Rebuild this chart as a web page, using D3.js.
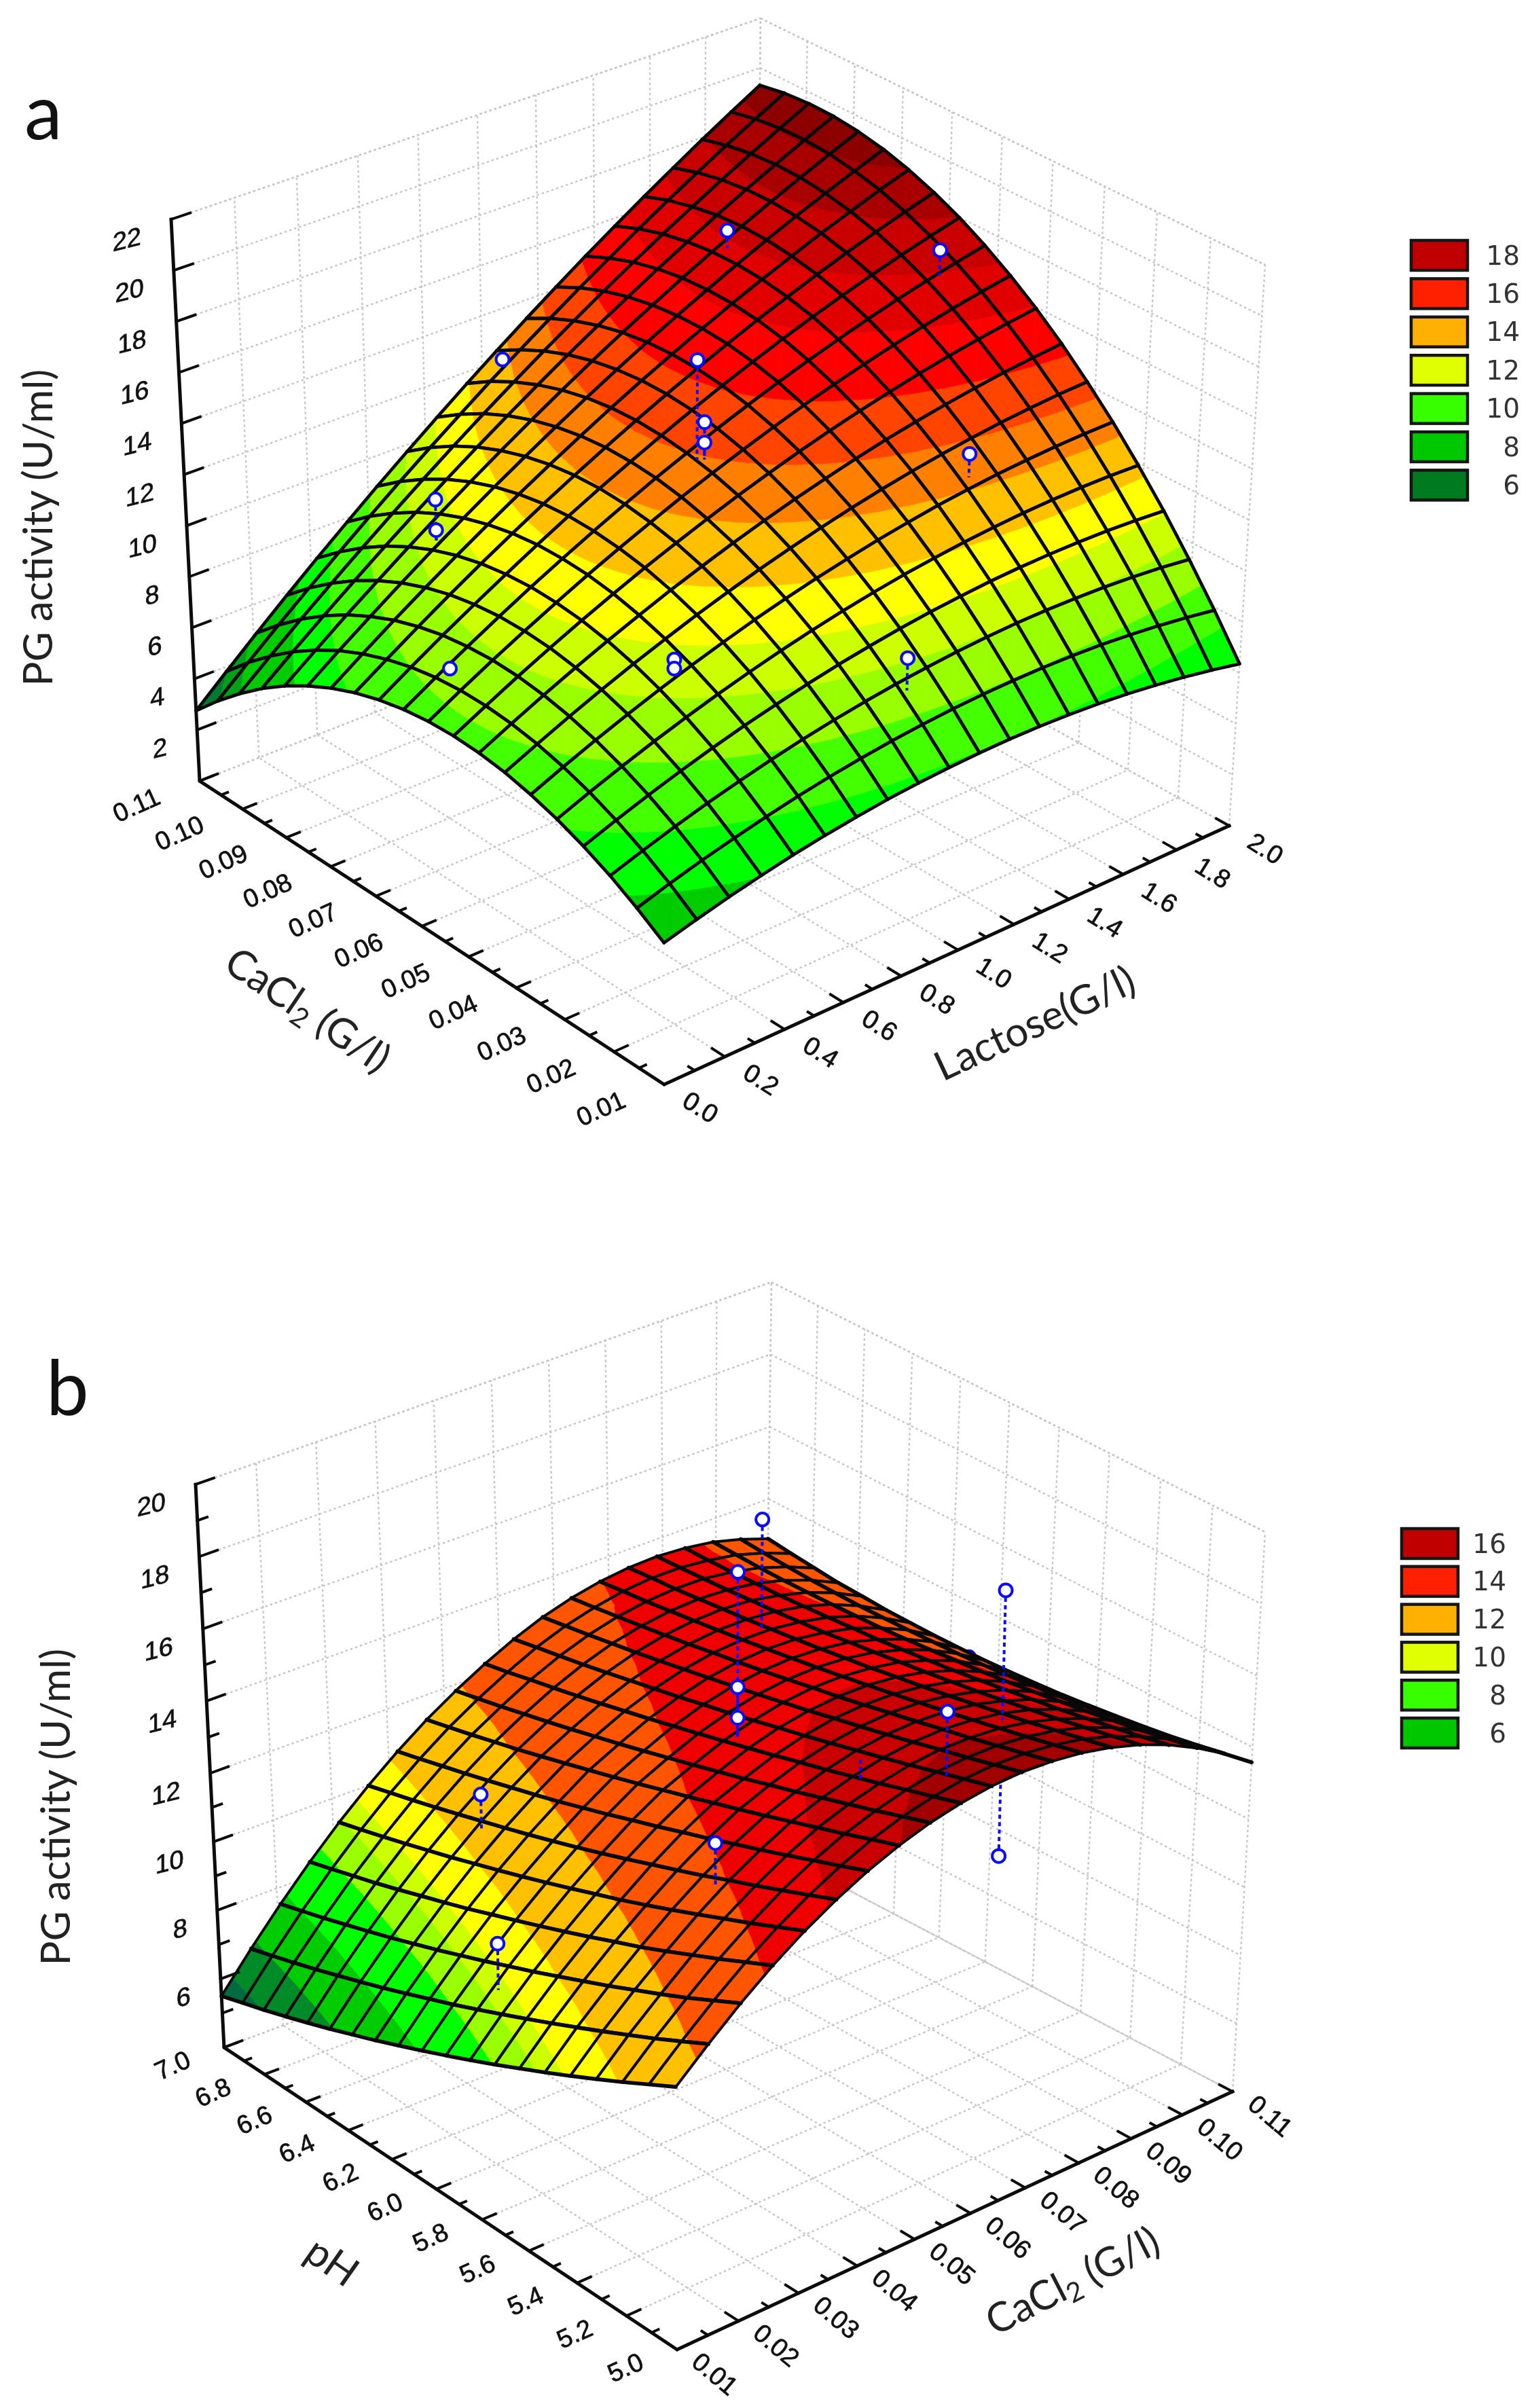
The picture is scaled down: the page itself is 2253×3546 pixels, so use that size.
<!DOCTYPE html>
<html>
<head>
<meta charset="utf-8">
<title>PG activity response surfaces</title>
<script src="https://cdnjs.cloudflare.com/ajax/libs/d3/7.8.5/d3.min.js"></script>
<style>
  html, body { margin: 0; padding: 0; background: #fff; }
  svg { display: block; filter: blur(0.6px); }
</style>
</head>
<body>
<div id="chart"></div>
<script>
/* ── panel a: values ── */
const lactoseTicksA = [0, 0.2, 0.4, 0.6, 0.8, 1.0, 1.2, 1.4, 1.6, 1.8, 2.0];
const cacl2TicksA = [0.01, 0.02, 0.03, 0.04, 0.05, 0.06, 0.07, 0.08, 0.09, 0.10, 0.11];
const zTicksA = [0, 2, 4, 6, 8, 10, 12, 14, 16, 18, 20, 22];
const legendValuesA = [18, 16, 14, 12, 10, 8, 6];
const legendColorsA = ["#c00000", "#ff2000", "#ffb000", "#e0ff00", "#38ff00", "#00c800", "#007a20"];
const bandBreaksA = [3.8, 4.6, 6.3, 7.4, 8.6, 9.7, 10.6, 11.6, 12.7, 13.7, 14.8, 16, 17, 18, 18.9];
const bandColorsA = ["#007a30", "#00a018", "#00cc00", "#00ff00", "#44ff00", "#99ff00", "#ccff00", "#ffff00",
  "#ffc000", "#ff8000", "#ff4400", "#ff0000", "#e00000", "#c80000", "#a80000", "#8c0000"];

// rows: CaCl2 0.01 -> 0.11, columns: lactose 0 -> 2
const surfaceA = [
  [5.40, 5.74, 6.05, 6.33, 6.58, 6.79, 6.97, 7.12, 7.23, 7.31, 7.36, 7.38, 7.37, 7.32, 7.24, 7.13, 6.98, 6.80, 6.59, 6.35],
  [6.07, 6.46, 6.81, 7.12, 7.41, 7.67, 7.89, 8.08, 8.24, 8.36, 8.46, 8.52, 8.55, 8.55, 8.52, 8.46, 8.36, 8.23, 8.07, 7.88],
  [6.66, 7.08, 7.47, 7.83, 8.15, 8.45, 8.72, 8.95, 9.15, 9.32, 9.46, 9.57, 9.65, 9.70, 9.71, 9.69, 9.65, 9.57, 9.46, 9.31],
  [7.15, 7.61, 8.04, 8.44, 8.81, 9.15, 9.45, 9.73, 9.98, 10.19, 10.38, 10.53, 10.65, 10.75, 10.81, 10.84, 10.84, 10.81, 10.75, 10.66],
  [7.55, 8.05, 8.52, 8.96, 9.37, 9.75, 10.10, 10.42, 10.71, 10.97, 11.20, 11.40, 11.56, 11.70, 11.81, 11.89, 11.94, 11.96, 11.95, 11.90],
  [7.86, 8.40, 8.91, 9.39, 9.84, 10.26, 10.65, 11.02, 11.35, 11.65, 11.92, 12.17, 12.38, 12.57, 12.72, 12.85, 12.94, 13.01, 13.05, 13.06],
  [8.09, 8.66, 9.21, 9.73, 10.22, 10.68, 11.12, 11.52, 11.90, 12.24, 12.56, 12.85, 13.11, 13.34, 13.54, 13.71, 13.86, 13.97, 14.06, 14.11],
  [8.22, 8.83, 9.42, 9.98, 10.51, 11.01, 11.49, 11.93, 12.35, 12.74, 13.10, 13.43, 13.74, 14.02, 14.26, 14.48, 14.67, 14.84, 14.97, 15.08],
  [8.26, 8.91, 9.54, 10.14, 10.71, 11.25, 11.77, 12.25, 12.71, 13.15, 13.55, 13.93, 14.28, 14.60, 14.89, 15.16, 15.40, 15.61, 15.79, 15.95],
  [8.21, 8.90, 9.57, 10.20, 10.81, 11.40, 11.95, 12.48, 12.99, 13.46, 13.91, 14.33, 14.73, 15.09, 15.43, 15.74, 16.03, 16.29, 16.52, 16.72],
  [8.07, 8.80, 9.50, 10.18, 10.83, 11.45, 12.05, 12.62, 13.17, 13.68, 14.18, 14.64, 15.08, 15.49, 15.87, 16.23, 16.57, 16.87, 17.15, 17.40],
  [7.84, 8.61, 9.35, 10.06, 10.75, 11.42, 12.06, 12.67, 13.25, 13.81, 14.35, 14.86, 15.34, 15.80, 16.23, 16.63, 17.01, 17.36, 17.69, 17.99],
  [7.52, 8.32, 9.10, 9.86, 10.59, 11.29, 11.97, 12.62, 13.25, 13.85, 14.43, 14.98, 15.51, 16.01, 16.48, 16.93, 17.36, 17.76, 18.13, 18.48],
  [7.11, 7.95, 8.77, 9.56, 10.33, 11.07, 11.79, 12.48, 13.15, 13.80, 14.42, 15.01, 15.58, 16.13, 16.65, 17.14, 17.62, 18.06, 18.49, 18.88],
  [6.61, 7.49, 8.34, 9.17, 9.98, 10.76, 11.52, 12.25, 12.96, 13.65, 14.31, 14.95, 15.56, 16.15, 16.72, 17.26, 17.78, 18.27, 18.74, 19.19],
  [6.02, 6.93, 7.83, 8.69, 9.54, 10.36, 11.16, 11.93, 12.68, 13.41, 14.12, 14.80, 15.45, 16.09, 16.70, 17.29, 17.85, 18.39, 18.91, 19.40],
  [5.34, 6.29, 7.22, 8.12, 9.01, 9.87, 10.71, 11.52, 12.31, 13.08, 13.83, 14.55, 15.25, 15.93, 16.58, 17.22, 17.83, 18.41, 18.98, 19.52],
  [4.56, 5.55, 6.52, 7.46, 8.38, 9.28, 10.16, 11.02, 11.85, 12.66, 13.45, 14.21, 14.96, 15.68, 16.38, 17.05, 17.71, 18.34, 18.95, 19.54],
  [3.70, 4.73, 5.73, 6.71, 7.67, 8.61, 9.53, 10.42, 11.29, 12.15, 12.97, 13.78, 14.57, 15.33, 16.08, 16.80, 17.50, 18.18, 18.83, 19.47],
  [2.75, 3.81, 4.85, 5.87, 6.87, 7.84, 8.80, 9.73, 10.64, 11.54, 12.41, 13.26, 14.09, 14.90, 15.68, 16.45, 17.19, 17.92, 18.62, 19.30]
];

const obsLactoseA = [1.51, 1.823, 0.995, 0.952, 0.964, 0.964, 1.496, 0.46, 0.46, 0.138, 0.487, 0.487, 0.958];
const obsCacl2A = [0.0879, 0.062, 0.105, 0.0608, 0.06, 0.06, 0.0374, 0.0854, 0.0854, 0.0617, 0.0374, 0.0374, 0.019];
const obsActivityA = [17.5, 18.0, 12.8, 17.5, 15.1, 14.3, 13.9, 11.6, 10.4, 9.1, 10.55, 10.2, 10.45];
const fitActivityA = [16.8, 17.0, 12.5, 13.6, 13.63, 13.63, 12.98, 10.0, 10.0, 8.98, 10.05, 10.05, 9.2];

/* ── panel b ── */
const cacl2TicksB = [0.01, 0.02, 0.03, 0.04, 0.05, 0.06, 0.07, 0.08, 0.09, 0.10, 0.11];
const phTicksB = [5.0, 5.2, 5.4, 5.6, 5.8, 6.0, 6.2, 6.4, 6.6, 6.8, 7.0];
const zTicksB = [4, 6, 8, 10, 12, 14, 16, 18, 20];
const legendValuesB = [16, 14, 12, 10, 8, 6];
const legendColorsB = ["#c00000", "#ff2000", "#ffb000", "#e0ff00", "#38ff00", "#00c800"];
const bandBreaksB = [5.9, 6.7, 7.7, 8.7, 9.3, 9.7, 10.5, 11.9, 13.4, 14.5, 15.4, 15.95];
const bandColorsB = ["#006a40", "#008a28", "#00cc00", "#00ff00", "#99ff00", "#ccff00", "#ffff00",
  "#ffc000", "#ff5500", "#ee0000", "#c80000", "#a00000", "#800000"];

// rows: pH 7 -> 5, columns: CaCl2 0.01 -> 0.11
const surfaceB = [
  [5.50, 6.54, 7.51, 8.41, 9.24, 9.99, 10.67, 11.28, 11.81, 12.27, 12.66, 12.98, 13.22, 13.39, 13.49, 13.52, 13.47, 13.36, 13.16, 12.90],
  [5.71, 6.74, 7.71, 8.60, 9.42, 10.17, 10.84, 11.44, 11.96, 12.40, 12.79, 13.09, 13.31, 13.47, 13.55, 13.55, 13.47, 13.34, 13.11, 12.82],
  [5.92, 6.95, 7.91, 8.80, 9.61, 10.35, 11.02, 11.61, 12.11, 12.55, 12.91, 13.20, 13.41, 13.54, 13.60, 13.59, 13.49, 13.32, 13.07, 12.75],
  [6.15, 7.17, 8.13, 9.00, 9.81, 10.54, 11.20, 11.79, 12.27, 12.69, 13.04, 13.32, 13.51, 13.63, 13.67, 13.63, 13.52, 13.32, 13.04, 12.68],
  [6.39, 7.41, 8.35, 9.22, 10.02, 10.74, 11.39, 11.97, 12.43, 12.84, 13.18, 13.44, 13.62, 13.72, 13.75, 13.69, 13.54, 13.33, 13.03, 12.65],
  [6.64, 7.65, 8.58, 9.45, 10.23, 10.95, 11.59, 12.16, 12.60, 13.00, 13.33, 13.57, 13.73, 13.82, 13.82, 13.74, 13.59, 13.35, 13.02, 12.61],
  [6.91, 7.90, 8.83, 9.68, 10.46, 11.16, 11.79, 12.35, 12.78, 13.17, 13.48, 13.71, 13.86, 13.92, 13.91, 13.81, 13.64, 13.38, 13.03, 12.60],
  [7.18, 8.17, 9.08, 9.92, 10.69, 11.38, 12.00, 12.55, 12.96, 13.34, 13.63, 13.85, 13.98, 14.03, 14.00, 13.88, 13.70, 13.41, 13.05, 12.59],
  [7.47, 8.45, 9.35, 10.18, 10.93, 11.61, 12.22, 12.75, 13.15, 13.52, 13.80, 14.00, 14.11, 14.15, 14.10, 13.98, 13.75, 13.46, 13.08, 12.60],
  [7.77, 8.73, 9.62, 10.44, 11.18, 11.85, 12.44, 12.96, 13.35, 13.70, 13.96, 14.15, 14.25, 14.27, 14.21, 14.07, 13.83, 13.52, 13.11, 12.62],
  [8.08, 9.03, 9.91, 10.71, 11.44, 12.10, 12.68, 13.18, 13.55, 13.89, 14.13, 14.31, 14.40, 14.40, 14.32, 14.17, 13.91, 13.59, 13.16, 12.66],
  [8.40, 9.34, 10.20, 10.99, 11.71, 12.35, 12.91, 13.40, 13.76, 14.08, 14.32, 14.47, 14.54, 14.54, 14.45, 14.27, 14.00, 13.66, 13.23, 12.71],
  [8.73, 9.66, 10.51, 11.28, 11.98, 12.61, 13.16, 13.63, 13.97, 14.28, 14.50, 14.65, 14.70, 14.68, 14.57, 14.38, 14.11, 13.75, 13.31, 12.77],
  [9.08, 9.99, 10.82, 11.58, 12.26, 12.87, 13.40, 13.86, 14.20, 14.49, 14.69, 14.82, 14.87, 14.83, 14.70, 14.50, 14.22, 13.85, 13.39, 12.85],
  [9.43, 10.33, 11.14, 11.88, 12.55, 13.14, 13.66, 14.10, 14.42, 14.69, 14.89, 15.00, 15.03, 14.98, 14.85, 14.63, 14.34, 13.96, 13.48, 12.94],
  [9.80, 10.68, 11.48, 12.20, 12.85, 13.43, 13.92, 14.35, 14.66, 14.91, 15.09, 15.19, 15.21, 15.14, 15.00, 14.77, 14.46, 14.07, 13.60, 13.04],
  [10.18, 11.04, 11.82, 12.53, 13.16, 13.71, 14.19, 14.60, 14.90, 15.13, 15.30, 15.39, 15.38, 15.31, 15.15, 14.91, 14.60, 14.20, 13.72, 13.15],
  [10.57, 11.41, 12.17, 12.86, 13.47, 14.01, 14.47, 14.85, 15.14, 15.37, 15.52, 15.58, 15.57, 15.48, 15.32, 15.07, 14.74, 14.33, 13.84, 13.28],
  [10.98, 11.80, 12.54, 13.21, 13.80, 14.31, 14.75, 15.12, 15.40, 15.60, 15.74, 15.79, 15.76, 15.66, 15.49, 15.23, 14.89, 14.49, 13.99, 13.43],
  [11.39, 12.19, 12.91, 13.56, 14.13, 14.62, 15.04, 15.38, 15.65, 15.84, 15.96, 16.00, 15.96, 15.85, 15.66, 15.40, 15.06, 14.64, 14.15, 13.58]
];

const obsCacl2B = [0.0824, 0.0587, 0.0587, 0.0587, 0.08, 0.1095, 0.0625, 0.0569, 0.08, 0.0348, 0.0354, 0.0177];
const obsPhB = [6.38, 5.92, 5.92, 5.92, 5.34, 6.11, 5.17, 5.38, 5.34, 5.44, 6.45, 5.92];
const obsActivityB = [17.0, 18.6, 15.4, 14.55, 18.95, 12.55, 17.35, 15.57, 11.55, 14.48, 11.88, 10.88];
const fitActivityB = [13.9, 14.03, 14.03, 14.03, 15.35, 12.7, 15.55, 14.99, 15.35, 13.26, 10.85, 9.54];
const obsMarkerB = [true, true, true, true, true, true, true, false, true, true, true, true];

const W = 2253, H = 3546;
const svg = d3.select("#chart").append("svg").attr("width", W).attr("height", H);

/* unit square -> picture quad, perspective corrected */
function quadMap([p00, p10, p01, p11]) {
  const dx1 = p10[0] - p11[0], dx2 = p01[0] - p11[0], sx = p00[0] - p10[0] + p11[0] - p01[0];
  const dy1 = p10[1] - p11[1], dy2 = p01[1] - p11[1], sy = p00[1] - p10[1] + p11[1] - p01[1];
  const den = dx1 * dy2 - dx2 * dy1;
  const g = (sx * dy2 - dx2 * sy) / den, h = (dx1 * sy - sx * dy1) / den;
  const a = p10[0] - p00[0] + g * p10[0], b = p01[0] - p00[0] + h * p01[0];
  const d = p10[1] - p00[1] + g * p10[1], e = p01[1] - p00[1] + h * p01[1];
  return (t, c) => {
    const q = g * t + h * c + 1;
    return [(a * t + b * c + p00[0]) / q, (d * t + e * c + p00[1]) / q];
  };
}

function clipPoly(poly, level, keepAbove) {
  const out = [];
  poly.forEach((p, i) => {
    const q = poly[(i + 1) % poly.length];
    const pIn = keepAbove ? p[2] >= level : p[2] <= level;
    const qIn = keepAbove ? q[2] >= level : q[2] <= level;
    if (pIn) out.push(p);
    if (pIn !== qIn) {
      const f = (level - p[2]) / (q[2] - p[2]);
      out.push([p[0] + f * (q[0] - p[0]), p[1] + f * (q[1] - p[1]), level]);
    }
  });
  return out;
}

function drawPanel(p) {
  const g = svg.append("g");
  const floor = quadMap(p.floor), top = quadMap(p.top);
  const project = (t, c, w) => {
    const a = floor(t, c), b = top(t, c);
    return [a[0] + w * (b[0] - a[0]), a[1] + w * (b[1] - a[1])];
  };
  const tScale = d3.scaleLinear().domain(p.tDomain).range([0, 1]);
  const cScale = d3.scaleLinear().domain(p.cDomain).range([0, 1]);
  const zScale = d3.scaleLinear().domain(p.zDomain).range(p.zRange);
  const line = d3.line();
  const midpoints = ticks => d3.pairs(ticks, (a, b) => (a + b) / 2);

  /* ─── Walls and floor grid ─── */
  const gridSegs = [];
  p.tTicks.forEach(v => {
    const t = tScale(v);
    gridSegs.push([project(t, 0, 0), project(t, 1, 0)]);
    gridSegs.push([project(t, 1, 0), project(t, 1, 1)]);
  });
  p.cTicks.forEach(v => {
    const c = cScale(v);
    gridSegs.push([project(0, c, 0), project(1, c, 0)]);
    gridSegs.push([project(1, c, 0), project(1, c, 1)]);
  });
  p.zTicks.concat(p.zDomain[p.zDomain.length - 1]).forEach(v => {
    const w = zScale(v);
    gridSegs.push([project(0, 1, w), project(1, 1, w)]);
    gridSegs.push([project(1, 1, w), project(1, 0, w)]);
  });
  g.append("g").selectAll("path").data(gridSegs).join("path")
    .attr("d", line)
    .attr("fill", "none")
    .attr("stroke", "#c6c6c6")
    .attr("stroke-width", 2.4)
    .attr("stroke-dasharray", "3.5 4");

  /* ─── Observed points ─── */
  const points = p.obsT.map((v, i) => {
    const t = tScale(v), c = cScale(p.obsC[i]);
    return {
      top: project(t, c, zScale(p.obs[i])),
      foot: project(t, c, zScale(p.fit[i])),
      below: p.obs[i] < p.fit[i],
      marker: p.marker ? p.marker[i] : true
    };
  });
  const drawPoints = (list) => {
    const pg = g.append("g");
    pg.selectAll("path").data(list).join("path")
      .attr("d", d => line([d.top, d.foot]))
      .attr("stroke", "#0a0aff")
      .attr("stroke-width", 4)
      .attr("stroke-dasharray", "6 5")
      .attr("fill", "none");
    pg.selectAll("circle").data(list.filter(d => d.marker)).join("circle")
      .attr("cx", d => d.top[0])
      .attr("cy", d => d.top[1])
      .attr("r", 9.5)
      .attr("fill", "#fff")
      .attr("stroke", "#0a0aff")
      .attr("stroke-width", 4);
  };
  drawPoints(points.filter(d => d.below));

  /* ─── Surface, far cells first ─── */
  const nRows = p.surface.length, nCols = p.surface[0].length;
  const colT = d3.scaleLinear().domain([0, nCols - 1]).range([0, 1]);
  const rowC = d3.scaleLinear().domain([0, nRows - 1]).range(p.rowCRange);
  const nodes = p.surface.map((row, k) => row.map((z, i) => {
    const xy = project(colT(i), rowC(k), zScale(z));
    return [xy[0], xy[1], z];
  }));
  const cells = [];
  for (let k = 0; k < nRows - 1; k++) {
    for (let i = 0; i < nCols - 1; i++) {
      cells.push({
        depth: colT(i) + (rowC(k) + rowC(k + 1)) / 2,
        a: nodes[k][i], b: nodes[k][i + 1], c: nodes[k + 1][i + 1], d: nodes[k + 1][i]
      });
    }
  }
  cells.sort((x, y) => d3.descending(x.depth, y.depth));
  const breaks = [-Infinity].concat(p.bandBreaks, Infinity);
  const bandPieces = cell => {
    const pieces = [];
    [[cell.a, cell.b, cell.c], [cell.a, cell.c, cell.d]].forEach(tri => {
      p.bandColors.forEach((fill, b) => {
        let poly = tri;
        if (breaks[b] > -Infinity) poly = clipPoly(poly, breaks[b], true);
        if (poly.length && breaks[b + 1] < Infinity) poly = clipPoly(poly, breaks[b + 1], false);
        if (poly.length > 2) pieces.push({ fill, d: line(poly.map(q => [q[0], q[1]])) + "Z" });
      });
    });
    return pieces;
  };
  const cellG = g.append("g").selectAll("g").data(cells).join("g");
  cellG.selectAll("path.band").data(bandPieces).join("path")
    .attr("class", "band")
    .attr("d", d => d.d)
    .attr("fill", d => d.fill)
    .attr("stroke", d => d.fill)
    .attr("stroke-width", 0.8);
  // lines of constant t (the L-F direction) and of constant c
  cellG.append("path")
    .attr("d", d => line([d.a, d.d].map(q => q.slice(0, 2))) + line([d.b, d.c].map(q => q.slice(0, 2))))
    .attr("fill", "none").attr("stroke", "#080808")
    .attr("stroke-width", p.meshT).attr("stroke-linecap", "round");
  cellG.append("path")
    .attr("d", d => line([d.a, d.b].map(q => q.slice(0, 2))) + line([d.d, d.c].map(q => q.slice(0, 2))))
    .attr("fill", "none").attr("stroke", "#080808")
    .attr("stroke-width", p.meshC).attr("stroke-linecap", "round");

  drawPoints(points.filter(d => !d.below));

  /* ─── Axes ─── */
  const axisG = g.append("g").attr("stroke", "#0c0c0c").attr("fill", "none").attr("stroke-linecap", "square");
  const bottom = zScale(p.zDomain[0]), zTop = zScale(p.zDomain[p.zDomain.length - 1]);
  axisG.append("path")
    .attr("d", line([project(0, 1, zTop), project(0, 1, bottom), project(0, 0, bottom), project(1, 0, bottom)]))
    .attr("stroke-width", 5).attr("stroke-linejoin", "miter");
  const tickData = [];
  p.zTicks.forEach(v => tickData.push([project(0, 1, zScale(v)), project(0.03, 1, zScale(v))]));
  (p.zMinor || []).forEach(v => tickData.push([project(0, 1, zScale(v)), project(0.016, 1, zScale(v))]));
  p.cTicks.forEach(v => tickData.push([project(0, cScale(v), 0), project(0.022, cScale(v), 0)]));
  midpoints(p.cTicks).forEach(v => tickData.push([project(0, cScale(v), 0), project(0.011, cScale(v), 0)]));
  p.tTicks.forEach(v => tickData.push([project(tScale(v), 0, 0), project(tScale(v), 0.025, 0)]));
  midpoints(p.tTicks).forEach(v => tickData.push([project(tScale(v), 0, 0), project(tScale(v), 0.012, 0)]));
  axisG.append("g").selectAll("path").data(tickData).join("path")
    .attr("d", line)
    .attr("stroke-width", 4);

  /* ─── Tick labels ─── */
  const tickFont = sel => sel
    .attr("font-family", "'Liberation Sans', Arial, sans-serif")
    .attr("font-size", 38)
    .attr("fill", "#111")
    .attr("stroke", "#111")
    .attr("stroke-width", 0.7)
    .attr("text-anchor", "middle")
    .attr("dominant-baseline", "middle");
  g.append("g").selectAll("text").data(p.zTicks.filter(v => v !== p.zDomain[0])).join("text")
    .call(tickFont)
    .attr("text-anchor", "end")
    .attr("transform", d => {
      const q = project(0, 1, zScale(d));
      return `translate(${q[0] - 44},${q[1] + 27}) skewY(-14)`;
    })
    .text(d => d);
  g.append("g").selectAll("text").data(p.cTicks).join("text")
    .call(tickFont)
    .attr("transform", d => {
      const q = project(0, cScale(d), 0);
      return `translate(${q[0] + p.cLabel.dx},${q[1] + p.cLabel.dy}) rotate(${p.cLabel.angle})`;
    })
    .text(d3.format(p.cLabel.format));
  g.append("g").selectAll("text").data(p.tTicks).join("text")
    .call(tickFont)
    .attr("transform", d => {
      const q = project(tScale(d), 0, 0);
      return `translate(${q[0] + p.tLabel.dx},${q[1] + p.tLabel.dy}) rotate(${p.tLabel.angle})`;
    })
    .text(d3.format(p.tLabel.format));

  /* ─── Titles ─── */
  const titleFont = sel => sel
    .attr("font-family", "Lato, 'Open Sans', sans-serif")
    .attr("font-size", 60)
    .attr("fill", "#222")
    .attr("text-anchor", "middle")
    .attr("dominant-baseline", "middle");
  p.titles.forEach(d => {
    const text = g.append("text").call(titleFont)
      .attr("transform", `translate(${d.x},${d.y}) rotate(${d.angle})`);
    if (d.sub) {
      text.append("tspan").text(d.pre);
      text.append("tspan").attr("font-size", 40).attr("dy", 14).text(d.sub);
      text.append("tspan").attr("dy", -14).text(d.post);
    } else {
      text.text(d.pre);
    }
  });
  g.append("text")
    .attr("x", p.letter.x).attr("y", p.letter.y)
    .attr("font-family", "Lato, 'Open Sans', sans-serif")
    .attr("font-size", 112)
    .attr("fill", "#111")
    .text(p.letter.text);

  /* ─── Legend ─── */
  const lg = g.append("g");
  const legendY = d3.scaleLinear().domain([0, 1]).range([p.legend.y, p.legend.y + p.legend.step]);
  lg.selectAll("rect").data(p.legendColors).join("rect")
    .attr("x", p.legend.x)
    .attr("y", (d, i) => legendY(i))
    .attr("width", 83)
    .attr("height", 44)
    .attr("fill", d => d)
    .attr("stroke", "#151515")
    .attr("stroke-width", 4.5);
  lg.selectAll("text").data(p.legendValues).join("text")
    .attr("x", p.legend.labelX)
    .attr("y", (d, i) => legendY(i) + 22)
    .attr("text-anchor", "end")
    .attr("dominant-baseline", "central")
    .attr("font-family", "'DejaVu Sans', sans-serif")
    .attr("font-size", 39)
    .attr("fill", "#333")
    .text(d => d);
}

drawPanel({
  floor: [[978, 1597], [1810, 1216], [294, 1150], [1111, 830]],
  top: [[977, 747], [1863, 390], [252, 323], [1120, 27]],
  tDomain: [0, 2], cDomain: [0.01, 0.11], zDomain: [0, 22], zRange: [0, 1],
  tTicks: lactoseTicksA, cTicks: cacl2TicksA, zTicks: zTicksA,
  surface: surfaceA, rowCRange: [0, 1],
  bandBreaks: bandBreaksA, bandColors: bandColorsA,
  meshT: 4.8, meshC: 4.8,
  obsT: obsLactoseA, obsC: obsCacl2A, obs: obsActivityA, fit: fitActivityA,
  cLabel: { dx: -92, dy: 38, angle: -24, format: ".2f" },
  tLabel: { dx: 52, dy: 36, angle: 32, format: ".1f" },
  titles: [
    { pre: "PG activity (U/ml)", x: 62, y: 777, angle: -90 },
    { pre: "CaCl", sub: "2", post: " (G/l)", x: 450, y: 1492, angle: 34 },
    { pre: "Lactose(G/l)", x: 1526, y: 1512, angle: -25 }
  ],
  letter: { text: "a", x: 36, y: 205 },
  legend: { x: 2078, y: 354, step: 56.4, labelX: 2238 },
  legendColors: legendColorsA, legendValues: legendValuesA
});

drawPanel({
  floor: [[997, 3460], [1815, 3080], [330, 3015], [1125, 2718]],
  top: [[993, 2600], [1863, 2256], [288, 2186], [1136, 1888]],
  tDomain: [0.01, 0.11], cDomain: [5, 7], zDomain: [4, 12, 20], zRange: [0, 0.487, 1],
  tTicks: cacl2TicksB, cTicks: phTicksB, zTicks: zTicksB,
  zMinor: [5, 7, 9, 11, 13, 15, 17, 19],
  surface: surfaceB, rowCRange: [1, 0],
  bandBreaks: bandBreaksB, bandColors: bandColorsB,
  meshT: 5.6, meshC: 4,
  obsT: obsCacl2B, obsC: obsPhB, obs: obsActivityB, fit: fitActivityB, marker: obsMarkerB,
  cLabel: { dx: -75, dy: 29, angle: -24, format: ".1f" },
  tLabel: { dx: 54, dy: 38, angle: 40, format: ".2f" },
  titles: [
    { pre: "PG activity (U/ml)", x: 88, y: 2661, angle: -90 },
    { pre: "pH", x: 486, y: 3335, angle: 35 },
    { pre: "CaCl", sub: "2", post: " (G/l)", x: 1582, y: 3364, angle: -27 }
  ],
  letter: { text: "b", x: 68, y: 2084 },
  legend: { x: 2064, y: 2251, step: 55.8, labelX: 2218 },
  legendColors: legendColorsB, legendValues: legendValuesB
});
</script>
</body>
</html>
